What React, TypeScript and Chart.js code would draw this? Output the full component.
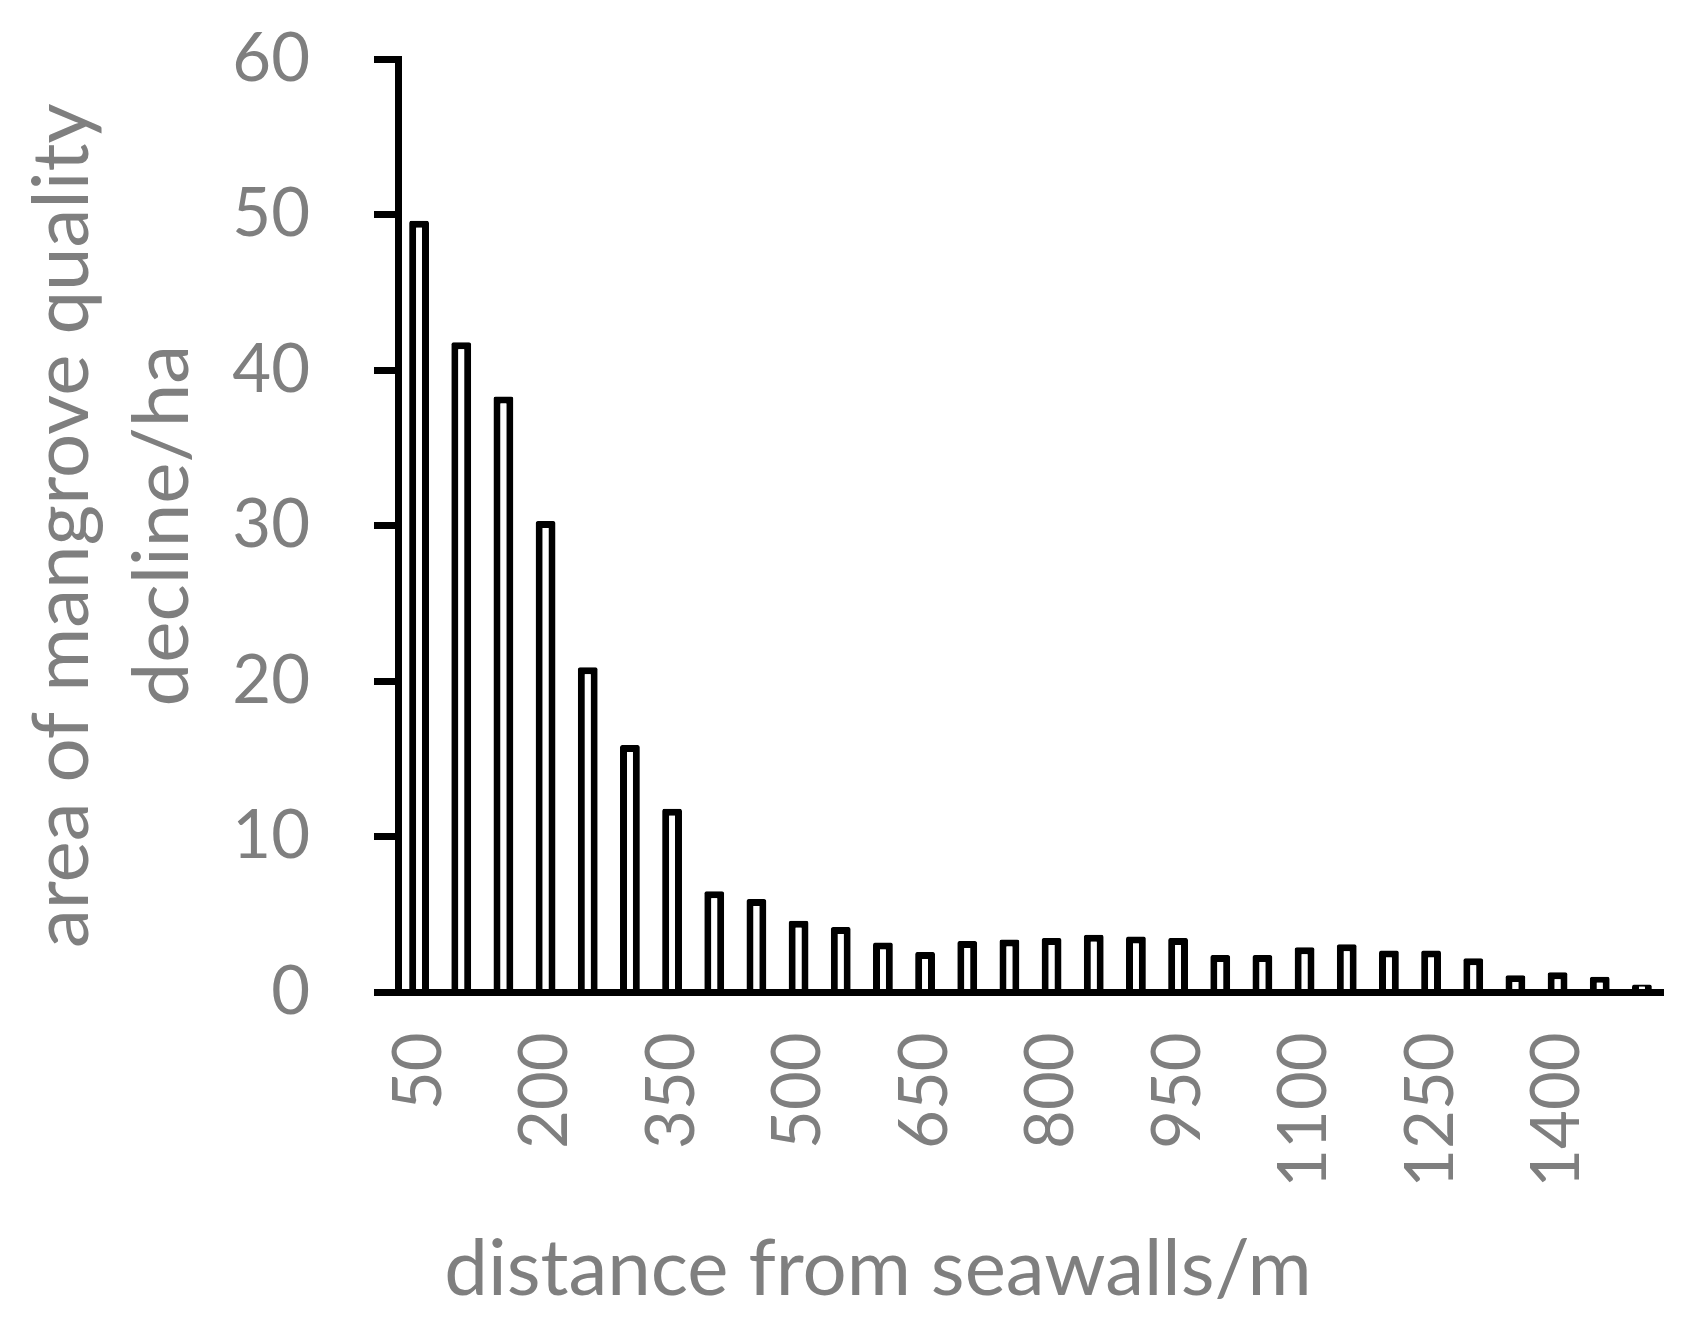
import React, { useEffect, useRef } from 'react';
import Chart from 'chart.js/auto';

// distance classes (m) and mangrove decline area (ha)
const distances = [
  '50', '100', '150', '200', '250', '300', '350', '400', '450', '500',
  '550', '600', '650', '700', '750', '800', '850', '900', '950', '1000',
  '1050', '1100', '1150', '1200', '1250', '1300', '1350', '1400', '1450', '1500',
];
const declineArea = [
  49.6, 41.8, 38.3, 30.3, 20.9, 15.9, 11.8, 6.5, 6.0, 4.6,
  4.2, 3.2, 2.6, 3.3, 3.4, 3.5, 3.7, 3.6, 3.5, 2.4,
  2.4, 2.9, 3.1, 2.7, 2.7, 2.2, 1.1, 1.3, 1.0, 0.5,
];
const yTitle = ['area of mangrove quality', 'decline/ha'];
const xTitle = 'distance from seawalls/m';

const GREY = '#7f7f7f';
const FONT = 'Lato, "Noto Sans", sans-serif';

const DeclineChart: React.FC = () => {
  const chartRef = useRef<HTMLCanvasElement>(null);
  const chartInstance = useRef<Chart | null>(null);

  useEffect(() => {
    if (!chartRef.current) return;
    if (chartInstance.current) chartInstance.current.destroy();

    chartInstance.current = new Chart(chartRef.current, {
      type: 'bar',
      data: {
        labels: distances,
        datasets: [{
          data: declineArea,
          backgroundColor: '#ffffff',
          borderColor: '#000000',
          borderWidth: 7,
          borderRadius: 2,
          barPercentage: 0.47,
          categoryPercentage: 1,
        }],
      },
      options: {
        animation: false,
        responsive: true,
        maintainAspectRatio: false,
        layout: {
          padding: { left: 93, right: 37, top: 59, bottom: 15 },
        },
        plugins: {
          legend: { display: false },
          tooltip: { enabled: false },
          title: {
            display: true,
            position: 'bottom',
            text: xTitle,
            color: GREY,
            font: { family: FONT, size: 78, weight: 'normal', lineHeight: 1.2 },
            padding: { top: 0, bottom: 0 },
          },
        },
        scales: {
          x: {
            grid: { display: false, drawTicks: false },
            border: { display: true, color: '#000000', width: 7 },
            ticks: {
              autoSkip: false,
              maxRotation: 90,
              minRotation: 90,
              padding: 40,
              color: GREY,
              font: { family: FONT, size: 67 },
              callback: (_v, index) => (index % 3 === 0 ? distances[index] : ''),
            },
            afterFit: (scale) => {
              scale.height = 231;
              scale.paddingLeft = 0;
              scale.paddingRight = 0;
            },
          },
          y: {
            min: 0,
            max: 60,
            grid: {
              display: true,
              drawOnChartArea: false,
              drawTicks: true,
              tickLength: 24,
              lineWidth: 7,
              color: '#000000',
            },
            border: { display: true, color: '#000000', width: 7 },
            ticks: {
              stepSize: 10,
              padding: 64,
              color: GREY,
              font: { family: FONT, size: 67 },
            },
            title: {
              display: true,
              text: yTitle,
              color: GREY,
              font: { family: FONT, size: 78, lineHeight: 1.28 },
              padding: { top: -80, bottom: 0 },
            },
            afterFit: (scale) => {
              scale.width = 305;
              scale.paddingTop = 0;
              scale.paddingBottom = 0;
            },
          },
        },
      },
    });

    return () => {
      if (chartInstance.current) {
        chartInstance.current.destroy();
        chartInstance.current = null;
      }
    };
  }, []);

  return (
    <div style={{ position: 'absolute', left: 0, top: 0, width: '1700px', height: '1332px', background: '#fff' }}>
      <canvas ref={chartRef}></canvas>
    </div>
  );
};

export default function App() {
  return <DeclineChart />;
}
